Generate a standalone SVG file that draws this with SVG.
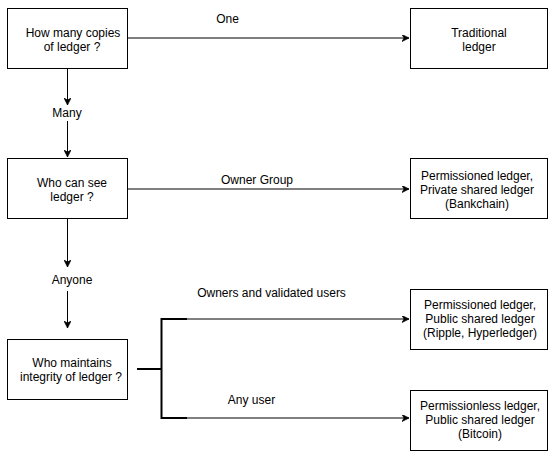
<svg xmlns="http://www.w3.org/2000/svg" width="553" height="456" viewBox="0 0 553 456">
<style>
.box{fill:#fff;stroke:#000;stroke-width:1}
.t{font-family:"Liberation Sans",Arial,sans-serif;font-size:12px;fill:#000;text-anchor:middle}
.ln{fill:none;stroke:#000;stroke-width:1}
.thick{fill:none;stroke:#000;stroke-width:2}
</style>
<defs>
<marker id="arr" viewBox="0 0 10 10" refX="10" refY="5" markerWidth="7" markerHeight="7" markerUnits="userSpaceOnUse" orient="auto">
<path d="M0,0 L10,5 L0,10 L3,5 Z" fill="#000" stroke="#000" stroke-width="1"/>
</marker>
</defs>
<rect width="553" height="456" fill="#fff"/>
<g id="connectors">
<path class="ln" d="M127.5,38 H409" marker-end="url(#arr)"/>
<text class="t" x="227.5" y="23">One</text>
<path class="ln" d="M67.5,68.5 V105" marker-end="url(#arr)"/>
<text class="t" x="67" y="117">Many</text>
<path class="ln" d="M67.5,121 V157" marker-end="url(#arr)"/>
<path class="ln" d="M127.5,189 H409" marker-end="url(#arr)"/>
<text class="t" x="257" y="184">Owner Group</text>
<path class="ln" d="M67.5,218.5 V267" marker-end="url(#arr)"/>
<text class="t" x="72" y="284">Anyone</text>
<path class="ln" d="M67.5,291 V328" marker-end="url(#arr)"/>
<path class="thick" d="M137,369 H161.5 M187,319 H161.5 V418 H187"/>
<path class="ln" d="M187,319 H409" marker-end="url(#arr)"/>
<path class="ln" d="M187,418 H409" marker-end="url(#arr)"/>
<text class="t" x="271.5" y="297">Owners and validated users</text>
<text class="t" x="251.5" y="404">Any user</text>
</g>
<g id="q1">
<rect class="box" x="7.5" y="8.5" width="120" height="60"/>
<text class="t" x="73" y="37">How many copies</text>
<text class="t" x="72" y="51">of ledger ?</text>
</g>
<g id="traditional">
<rect class="box" x="410.5" y="8.5" width="137" height="60"/>
<text class="t" x="479" y="37">Traditional</text>
<text class="t" x="479" y="51">ledger</text>
</g>
<g id="q2">
<rect class="box" x="7.5" y="158.5" width="120" height="60"/>
<text class="t" x="72" y="187">Who can see</text>
<text class="t" x="72" y="201">ledger ?</text>
</g>
<g id="private">
<rect class="box" x="410.5" y="158.5" width="137" height="60"/>
<text class="t" x="477" y="180">Permissioned ledger,</text>
<text class="t" x="477" y="194">Private shared ledger</text>
<text class="t" x="477" y="208">(Bankchain)</text>
</g>
<g id="q3">
<rect class="box" x="7.5" y="339.5" width="120" height="60"/>
<text class="t" x="72" y="367">Who maintains</text>
<text class="t" x="71" y="381">integrity of ledger ?</text>
</g>
<g id="public-permissioned">
<rect class="box" x="410.5" y="289.5" width="137" height="60"/>
<text class="t" x="480" y="309">Permissioned ledger,</text>
<text class="t" x="480" y="323">Public shared ledger</text>
<text class="t" x="480" y="337">(Ripple, Hyperledger)</text>
</g>
<g id="public-permissionless">
<rect class="box" x="410.5" y="390.5" width="137" height="60"/>
<text class="t" x="480" y="410">Permissionless ledger,</text>
<text class="t" x="480" y="424">Public shared ledger</text>
<text class="t" x="480" y="438">(Bitcoin)</text>
</g>
</svg>
